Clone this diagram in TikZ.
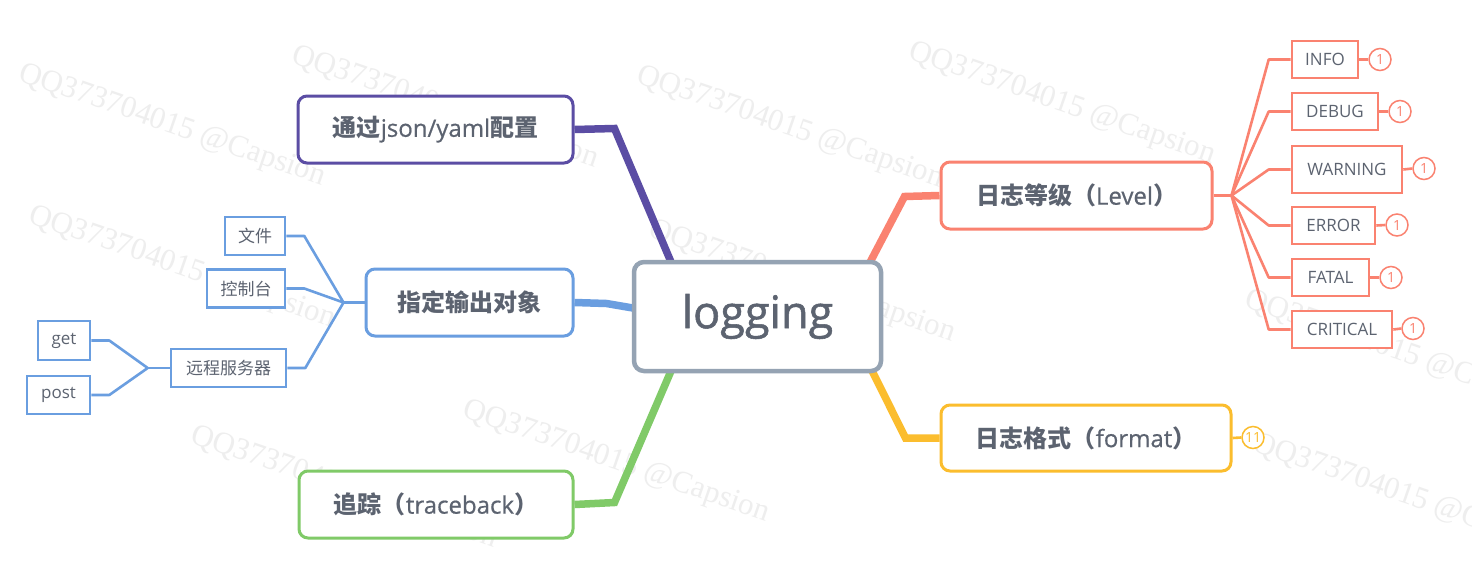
\documentclass[tikz,border=0pt]{standalone}
\usepackage{fontspec}
\setmainfont{Open Sans}
\newfontfamily\cjk{Noto Sans CJK SC}
\newfontfamily\wmfont{Liberation Serif}
\newfontfamily\rootfont{Open Sans}[FakeBold=1.2]
\newfontfamily\mainlat{Open Sans}[FakeBold=0.6]
\usetikzlibrary{calc}
\definecolor{txt}{HTML}{5C6370}
\definecolor{cpurple}{HTML}{5B4DA4}
\definecolor{cblue}{HTML}{6A9EE0}
\definecolor{cgreen}{HTML}{80CA68}
\definecolor{csalmon}{HTML}{FA8270}
\definecolor{cyellow}{HTML}{FBBD2E}
\definecolor{cgray}{HTML}{95A3B3}
\definecolor{wmgray}{HTML}{EEEEEE}
\newcommand{\zh}[1]{{\cjk\bfseries #1}}
\newcommand{\zhn}[1]{{\cjk #1}}
\pgfdeclarelayer{wm}
\pgfdeclarelayer{bg}
\pgfsetlayers{wm,bg,main}
\tikzset{
  mainbox/.style={draw=#1, line width=3pt, rounded corners=9pt, fill=white, text=txt,
    inner sep=0pt, minimum height=67pt, font=\mainlat\fontsize{24}{28}\selectfont},
  leaf/.style={draw=#1, line width=2.6pt, fill=white, text=txt, inner sep=0pt,
    minimum height=37pt, font=\fontsize{17}{20}\selectfont},
  badge/.style={circle, draw=#1, line width=1.5pt, fill=white, text=#1,
    minimum size=22pt, inner sep=0pt, font=\fontsize{14}{16}\selectfont},
  brlink/.style={draw=#1, line width=7.5pt, line join=miter},
  leaflink/.style={draw=#1, line width=2.6pt, line join=round},
  wmark/.style={text=wmgray, rotate=-19, font=\wmfont\fontsize{31}{34}\selectfont, inner sep=0pt}
}
\begin{document}
\begin{tikzpicture}[x=1pt,y=-1pt]
\useasboundingbox (0,0) rectangle (1472,560);

% watermark
\begin{pgfonlayer}{wm}
\fill[white] (0,0) rectangle (1472,560);
\node[wmark] (w1) at (172,126) {QQ373704015 @Capsion};
\node[wmark] (w2) at (445,108) {QQ373704015 @Capsion};
\node[wmark] (w3) at (790,128) {QQ373704015 @Capsion};
\node[wmark] (w4) at (1062,104) {QQ373704015 @Capsion};
\node[wmark] (w5) at (182,268) {QQ373704015 @Capsion};
\node[wmark] (w6) at (802,282) {QQ373704015 @Capsion};
\node[wmark] (w7) at (616,462) {QQ373704015 @Capsion};
\node[wmark] (w8) at (344,488) {QQ373704015 @Capsion};
\node[wmark] (w9) at (1398,352) {QQ373704015 @Capsion};
\node[wmark] (w10) at (1406,496) {QQ373704015 @Capsion};
\end{pgfonlayer}

% main nodes
\node[draw=cgray, line width=4.5pt, rounded corners=10pt, fill=white, text=txt,
  minimum width=247pt, minimum height=109pt, inner sep=0pt,
  font=\rootfont\fontsize{45}{50}\selectfont] (root) at (757.5,316.5) {logging};
\node[mainbox=cpurple, minimum width=275pt] (cfg) at (435.5,129.5) {\zh{通过}json/yaml\zh{配置}};
\node[mainbox=cblue, minimum width=207pt] (out) at (469.5,302.5) {\zh{指定输出对象}};
\node[mainbox=cgreen, minimum width=274pt] (trace) at (436,504.5) {\zh{追踪（}traceback\zh{）}};
\node[mainbox=csalmon, minimum width=271pt] (level) at (1076.5,195.5) {\zh{日志等级（}Level\zh{）}};
\node[mainbox=cyellow, minimum width=290pt, minimum height=66pt] (fmt) at (1086,438) {\zh{日志格式（}format\zh{）}};

% level leaves
\node[leaf=csalmon, minimum width=66pt] (info) at (1325,59.5) {INFO};
\node[leaf=csalmon, minimum width=86pt] (debug) at (1335,111.5) {DEBUG};
\node[leaf=csalmon, minimum width=110pt, minimum height=47pt] (warning) at (1347,169.5) {WARNING};
\node[leaf=csalmon, minimum width=83pt] (error) at (1333.5,225.5) {ERROR};
\node[leaf=csalmon, minimum width=77pt] (fatal) at (1330.5,277.5) {FATAL};
\node[leaf=csalmon, minimum width=100pt] (critical) at (1342,329.5) {CRITICAL};

\node[badge=csalmon] (b1) at (1380,59.5) {1};
\node[badge=csalmon] (b2) at (1400,111.5) {1};
\node[badge=csalmon] (b3) at (1424,168.5) {1};
\node[badge=csalmon] (b4) at (1397,225) {1};
\node[badge=csalmon] (b5) at (1391,277.5) {1};
\node[badge=csalmon] (b6) at (1413,328.5) {1};
\node[badge=cyellow] (b7) at (1253,437.5) {11};

% output leaves
\node[leaf=cblue, minimum width=60pt, minimum height=38pt] (file) at (255,236) {\zhn{文件}};
\node[leaf=cblue, minimum width=78pt, minimum height=38pt] (console) at (246,288.5) {\zhn{控制台}};
\node[leaf=cblue, minimum width=115pt, minimum height=38pt] (remote) at (228.5,368) {\zhn{远程服务器}};
\node[leaf=cblue, minimum width=52pt, minimum height=39pt] (get) at (64,340.5) {get};
\node[leaf=cblue, minimum width=63pt, minimum height=38pt] (post) at (58.5,395) {post};

\begin{pgfonlayer}{bg}
% branches
\draw[brlink=cpurple] (cfg.east) -- ++(40,-1) -- ($(root.north west)+(40,4)$);
\draw[brlink=cblue] (out.east) -- ++(32,1) -- ($(root.west)+(4,-8)$);
\draw[brlink=cgreen] (trace.east) -- ++(40,-2) -- ($(root.south west)+(40,-4)$);
\draw[brlink=csalmon] (level.west) -- ++(-35,1) -- ($(root.north east)+(-14,4)$);
\draw[brlink=cyellow] (fmt.west) -- ++(-34,0) -- ($(root.south east)+(-12,-4)$);

% level leaves
\coordinate (jl) at ($(level.east)+(18,0)$);
\draw[leaflink=csalmon] (level.east) -- (jl);
\foreach \n in {info,debug,warning,error,fatal,critical}{
  \draw[leaflink=csalmon] (jl) -- ($(\n.west)+(-22,0)$) -- (\n.west);
}
\draw[leaflink=csalmon] (info.east) -- (b1.west);
\draw[leaflink=csalmon] (debug.east) -- (b2.west);
\draw[leaflink=csalmon] (warning.east) -- (b3.west);
\draw[leaflink=csalmon] (error.east) -- (b4.west);
\draw[leaflink=csalmon] (fatal.east) -- (b5.west);
\draw[leaflink=csalmon] (critical.east) -- (b6.west);
\draw[line width=2.6pt, draw=cyellow] (fmt.east) -- (b7.west);

% output leaves
\coordinate (jo) at ($(out.west)+(-21,0)$);
\draw[leaflink=cblue] (out.west) -- (jo);
\foreach \n in {file,console,remote}{
  \draw[leaflink=cblue] (jo) -- ($(\n.east)+(18,0)$) -- (\n.east);
}
\coordinate (jr) at ($(remote.west)+(-22,0)$);
\draw[leaflink=cblue] (remote.west) -- (jr);
\foreach \n in {get,post}{
  \draw[leaflink=cblue] (jr) -- ($(\n.east)+(18,0)$) -- (\n.east);
}
\end{pgfonlayer}
\end{tikzpicture}
\end{document}
